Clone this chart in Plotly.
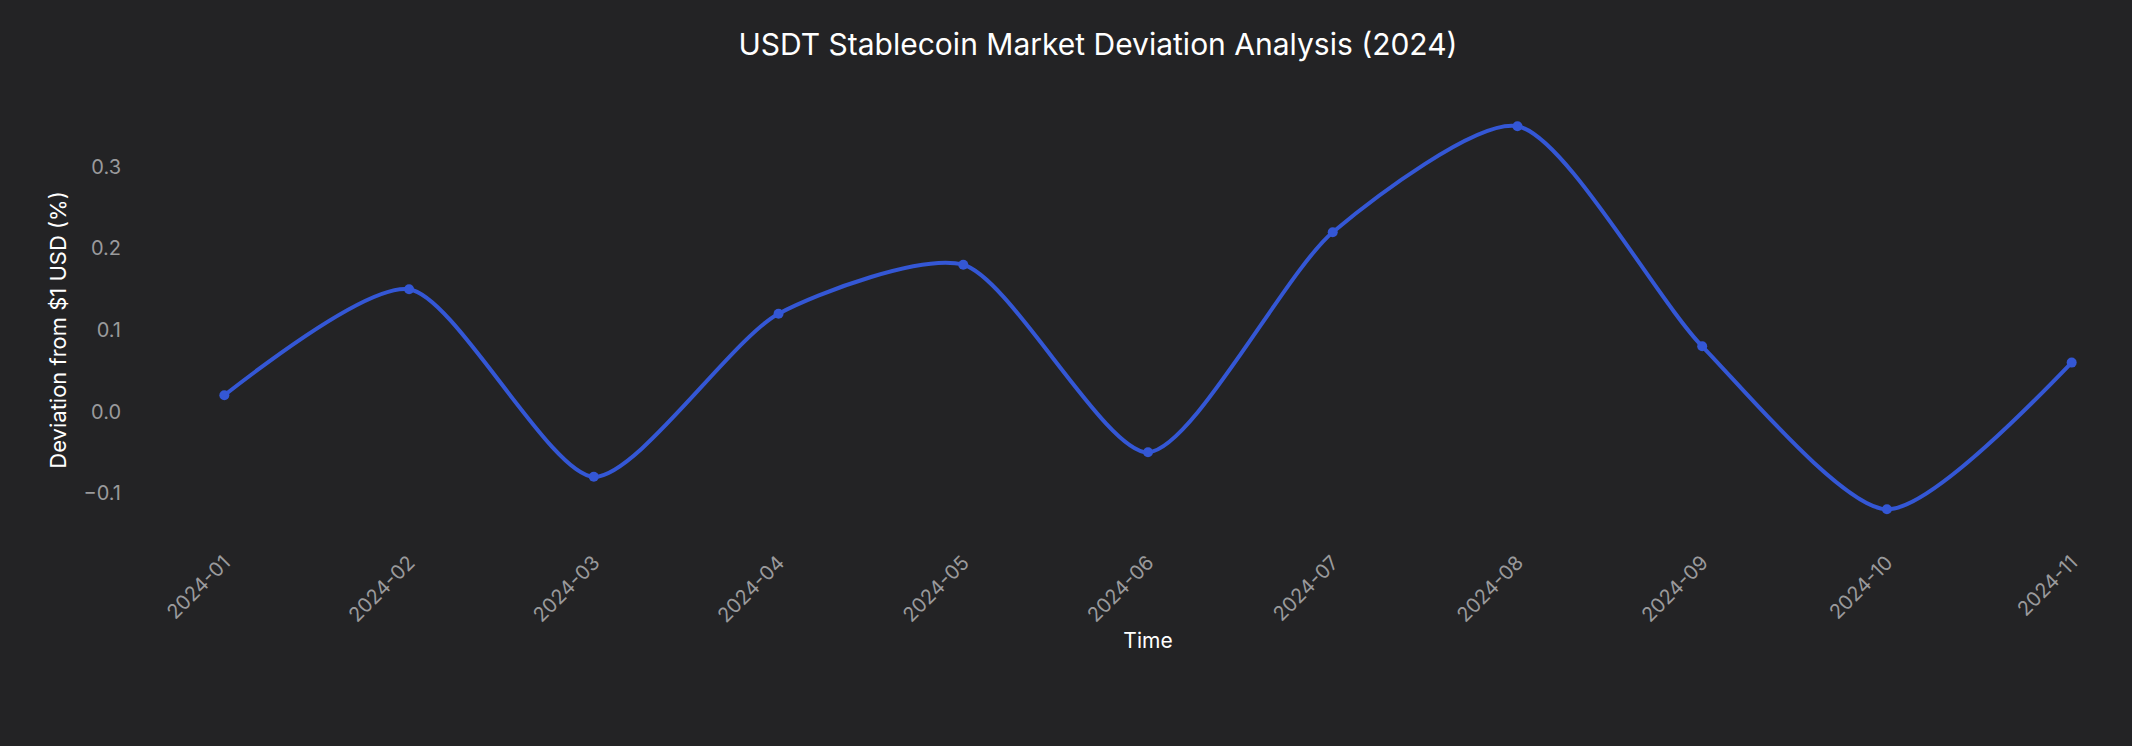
import plotly.graph_objects as go

# monthly USDT deviation from the $1 peg, in percent
months = ["2024-01", "2024-02", "2024-03", "2024-04", "2024-05", "2024-06",
          "2024-07", "2024-08", "2024-09", "2024-10", "2024-11"]
deviation = [0.02, 0.15, -0.08, 0.12, 0.18, -0.05, 0.22, 0.35, 0.08, -0.12, 0.06]

BG = "#232325"
LINE = "#3457d5"

fig = go.Figure()
fig.add_trace(go.Scatter(
    x=months,
    y=deviation,
    mode="lines+markers",
    line=dict(color=LINE, width=4, shape="spline", smoothing=0.7),
    marker=dict(color=LINE, size=10),
    showlegend=False,
))

fig.update_layout(
    width=2132,
    height=746,
    paper_bgcolor=BG,
    plot_bgcolor=BG,
    font=dict(family="Inter, Roboto, sans-serif", color="#ffffff", size=20),
    title=dict(
        text="USDT Stablecoin Market Deviation Analysis (2024)",
        x=0.515, xanchor="center", y=0.94, yanchor="middle",
        font=dict(size=30, color="#ffffff"),
    ),
    margin=dict(l=180, r=16, t=114, b=200),
    xaxis=dict(
        type="category",
        range=[-0.24, 10.24],
        showgrid=False, zeroline=False, showline=False,
        tickangle=-45,
        tickfont=dict(size=20, color="#9a9a9c"),
        title=dict(text="Time", font=dict(size=21, color="#ffffff"), standoff=7),
    ),
    yaxis=dict(
        range=[-0.165, 0.365],
        dtick=0.1,
        tickformat=".1f",
        showgrid=False, zeroline=False, showline=False,
        ticklabelstandoff=58,
        tickfont=dict(size=20, color="#9a9a9c"),
        title=dict(text="Deviation from $1 USD (%)", font=dict(size=22, color="#ffffff"), standoff=10),
    ),
)

# drop the page margin so the figure fills the window
fig.write_html("out.html",
               config={"displayModeBar": False},
               post_script="document.body.style.margin='0';document.body.style.background='#232325';")
